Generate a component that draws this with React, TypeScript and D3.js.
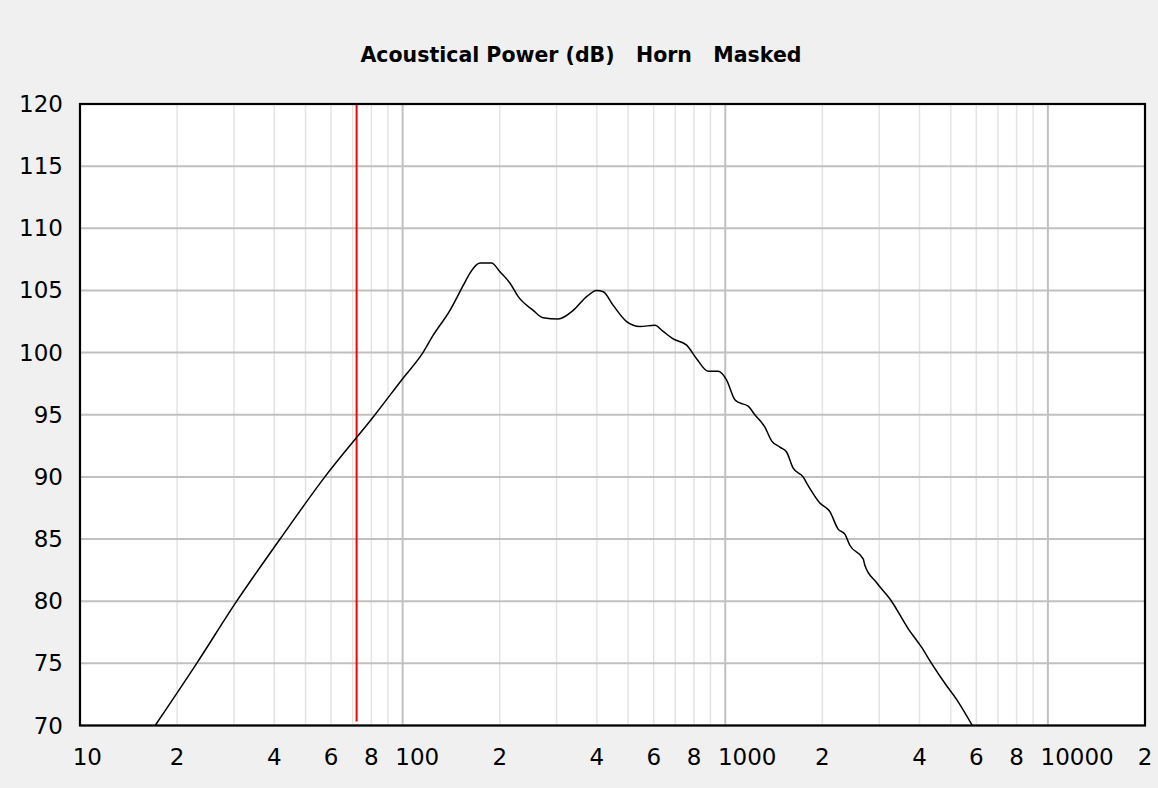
import React from "react";
import * as d3 from "d3";

const freqs = [17.1, 23.0, 30.6, 41.7, 57.4, 82.1, 100, 115.6, 124.4, 140.2, 154.1, 161.7, 173.6, 188.7, 200.3, 215.0, 228.2, 253.9, 272.7, 303.5, 337.9, 371.7, 399.2, 418.5, 449.5, 494.6, 543.7, 605.2, 642.1, 689.5, 759.0, 815.1, 885.3, 950.9, 1009, 1071, 1110, 1177, 1235, 1327, 1392, 1477, 1549, 1624, 1743, 1807, 1964, 2110, 2238, 2348, 2433, 2676, 2708, 2943, 3276, 3688, 4058, 4359, 4793, 5211, 5830];
const power = [70, 75, 80, 85, 90, 95, 97.9, 100, 101.4, 103.4, 105.4, 106.4, 107.2, 107.2, 106.5, 105.6, 104.5, 103.4, 102.8, 102.7, 103.4, 104.5, 105.0, 104.9, 103.8, 102.5, 102.1, 102.2, 101.7, 101.1, 100.6, 99.5, 98.5, 98.5, 97.8, 96.2, 95.95, 95.7, 95.0, 94.0, 92.9, 92.4, 92.0, 90.7, 90.0, 89.3, 87.9, 87.2, 85.8, 85.4, 84.5, 83.4, 82.9, 81.5, 80.0, 77.8, 76.3, 75.0, 73.4, 72.1, 70.0];

const markerFreq = 72;
const yTicks = [70, 75, 80, 85, 90, 95, 100, 105, 110, 115, 120];
const xLabelTicks = [10, 20, 40, 60, 80, 100, 200, 400, 600, 800, 1000, 2000, 4000, 6000, 8000, 10000, 20000];
const titleText = "Acoustical Power (dB)   Horn   Masked";

const W = 1158;
const H = 788;
const L = 80, R = 1145, T = 104, B = 725.5;
const FONT = "'DejaVu Sans', Verdana, sans-serif";

export default function App() {
  const x = d3.scaleLog().domain([10, 20000]).range([L, R]);
  const y = d3.scaleLinear().domain([70, 120]).range([B, T]);

  const minor: number[] = [];
  const major: number[] = [];
  for (let dec = 10; dec <= 10000; dec *= 10) {
    major.push(dec);
    for (let m = 2; m <= 9; m++) {
      const v = dec * m;
      if (v < 20000) minor.push(v);
    }
  }

  const line = d3
    .line<number>()
    .x((_, i) => x(freqs[i]))
    .y((d) => y(d))
    .curve(d3.curveMonotoneX);

  const fmt = (v: number) => {
    const lg = Math.log10(v);
    if (Math.abs(lg - Math.round(lg)) < 1e-9) return String(v);
    return String(Math.round(v / Math.pow(10, Math.floor(lg))));
  };

  return (
    <svg
      width={W}
      height={H}
      style={{ position: "absolute", left: 0, top: 0, display: "block" }}
    >
      <rect x={0} y={0} width={W} height={H} fill="#f0f0f0" />
      <rect x={L} y={T} width={R - L} height={B - T} fill="#ffffff" />
      {minor.map((v) => (
        <line key={"mn" + v} x1={x(v)} x2={x(v)} y1={T} y2={B} stroke="#e4e4e4" strokeWidth={1.5} />
      ))}
      {major.map((v) => (
        <line key={"mj" + v} x1={x(v)} x2={x(v)} y1={T} y2={B} stroke="#c0c0c0" strokeWidth={2} />
      ))}
      {yTicks.map((v) => (
        <line key={"h" + v} x1={L} x2={R} y1={y(v)} y2={y(v)} stroke="#c0c0c0" strokeWidth={2} />
      ))}
      <line x1={x(markerFreq)} x2={x(markerFreq)} y1={T} y2={B - 4} stroke="#ff0000" strokeWidth={2} />
      <path d={line(power) || ""} fill="none" stroke="#000000" strokeWidth={1.5} />
      <rect x={L} y={T} width={R - L} height={B - T} fill="none" stroke="#000000" strokeWidth={2.2} />
      {yTicks.map((v) => (
        <text key={"yl" + v} x={63} y={y(v) + 8} textAnchor="end" fontFamily={FONT} fontSize={23} fill="#000">
          {v}
        </text>
      ))}
      {xLabelTicks.map((v) => (
        <text key={"xl" + v} x={x(v) - 7.3} y={765} textAnchor="start" fontFamily={FONT} fontSize={23} fill="#000">
          {fmt(v)}
        </text>
      ))}
      <text
        x={581}
        y={62}
        textAnchor="middle"
        fontFamily={FONT}
        fontWeight="bold"
        fontSize={20.5}
        fill="#000"
        style={{ whiteSpace: "pre" }}
      >
        {titleText}
      </text>
    </svg>
  );
}
